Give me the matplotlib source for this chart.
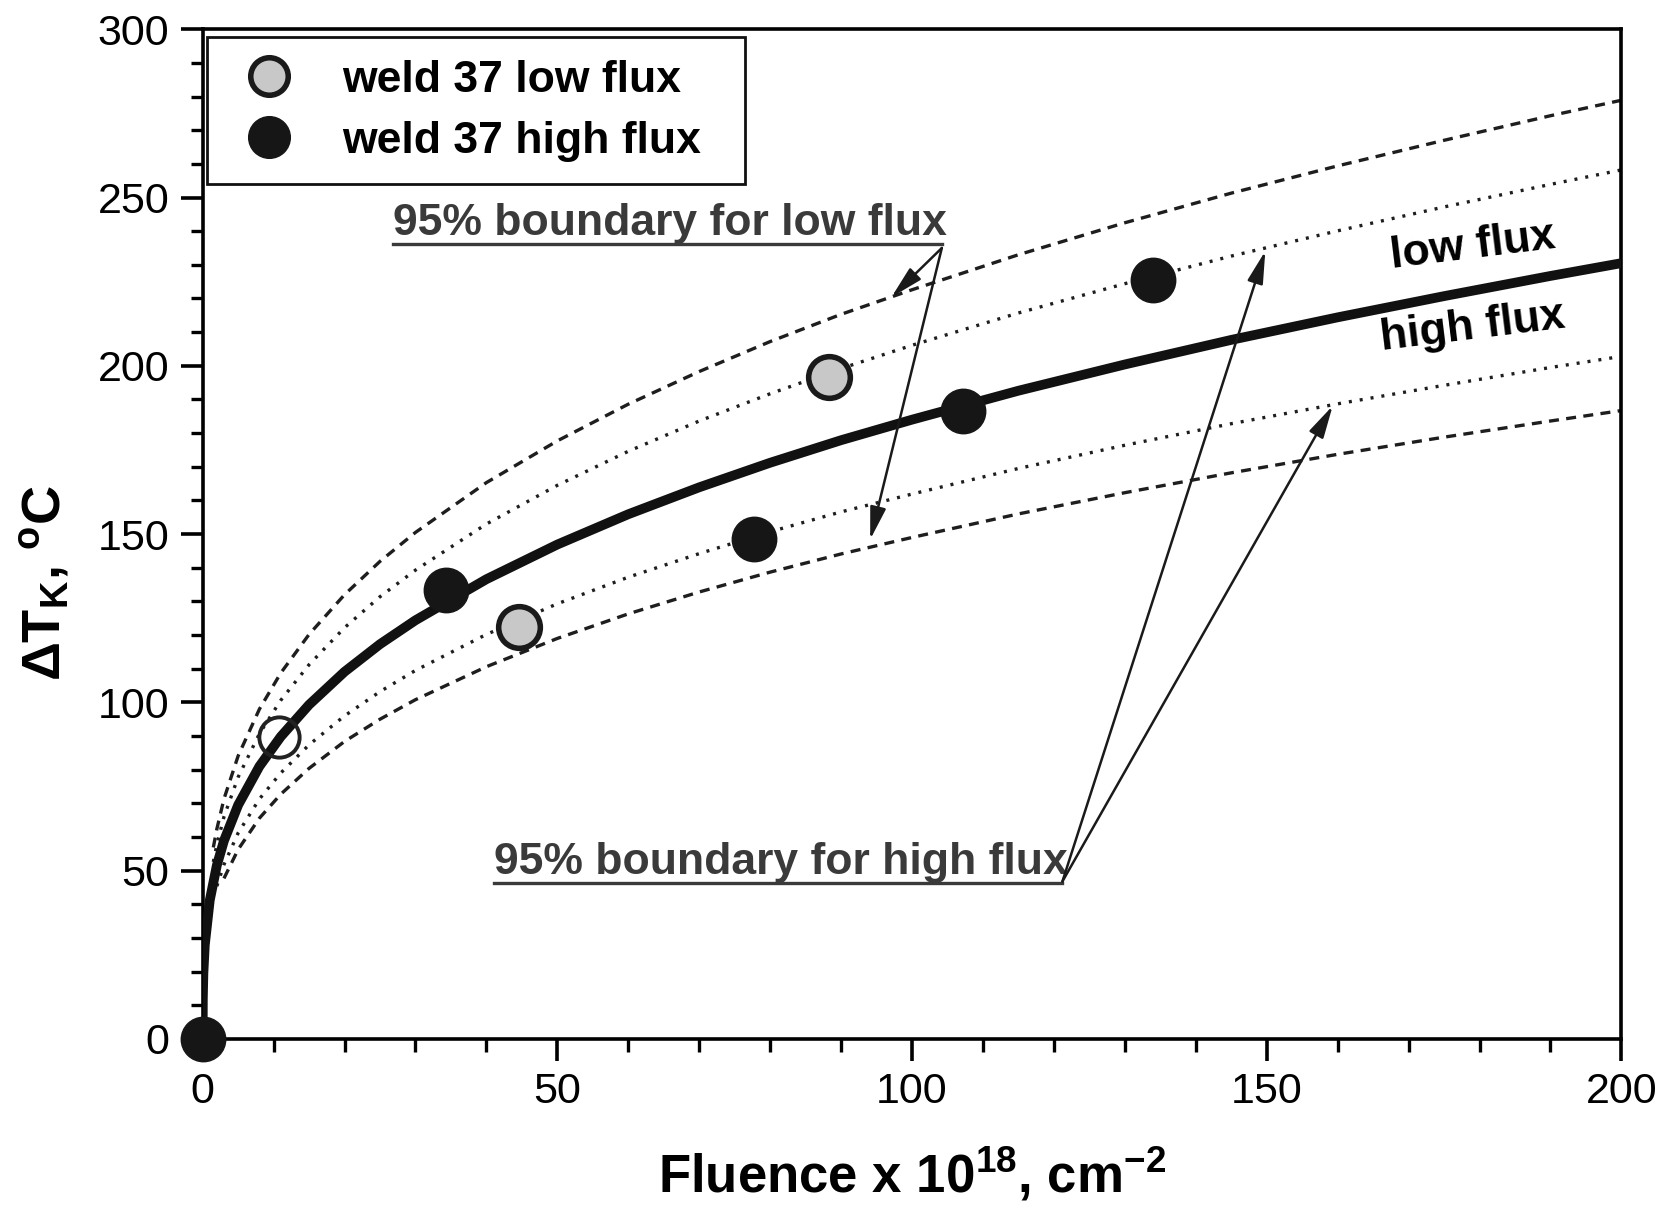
import matplotlib

matplotlib.use("Agg")
import matplotlib.pyplot as plt
from matplotlib.lines import Line2D

plt.rcParams["font.family"] = ["Liberation Sans", "DejaVu Sans"]
plt.rcParams["mathtext.fontset"] = "custom"
plt.rcParams["mathtext.rm"] = "Liberation Sans:bold"
plt.rcParams["mathtext.bf"] = "Liberation Sans:bold"
plt.rcParams["mathtext.default"] = "bf"

# measured points, weld 37
low_flux_F = [10.8, 44.6, 88.3]
low_flux_T = [89.8, 122.4, 196.6]
high_flux_F = [0.0, 34.3, 77.7, 107.2, 134.0]
high_flux_T = [0.0, 133.5, 148.4, 186.5, 225.5]

# trend curve (same for low and high flux)
trend_F = [0, 0.02, 0.1, 0.3, 1, 2, 3, 5, 8, 11, 15, 20, 25, 30, 40, 50, 60, 70,
           80, 90, 100, 115, 130, 145, 160, 175, 190, 200]
trend_T = [0, 11.6, 19.5, 27.9, 41.2, 51.6, 58.9, 69.5, 81.0, 89.8, 99.3, 109.1,
           117.3, 124.4, 136.6, 146.9, 155.9, 163.9, 171.2, 177.9, 184.0, 192.6,
           200.4, 207.7, 214.4, 220.7, 226.7, 230.5]

# 95% boundaries, low flux (dashed)
lo_upper_F = [1.5, 2, 3, 5, 8, 11, 15, 20, 25, 30, 40, 50, 60, 70, 80, 90, 100,
              115, 130, 145, 160, 175, 190, 200]
lo_upper_T = [56.9, 62.4, 71.3, 84.1, 98.0, 108.7, 120.2, 132.0, 141.9, 150.5,
              165.3, 177.7, 188.6, 198.3, 207.2, 215.3, 222.6, 233.0, 242.5,
              251.3, 259.4, 267.0, 274.3, 278.9]
lo_lower_F = [3, 5, 8, 11, 15, 20, 25, 30, 40, 50, 60, 70, 80, 90, 100, 115, 130,
              145, 160, 175, 190, 200]
lo_lower_T = [47.7, 56.3, 65.6, 72.7, 80.4, 88.4, 95.0, 100.8, 110.6, 119.0,
              126.3, 132.8, 138.7, 144.1, 149.0, 156.0, 162.3, 168.2, 173.7,
              178.8, 183.6, 186.7]

# 95% boundaries, high flux (dotted)
hi_upper_F = [1.5, 2, 3, 5, 8, 11, 15, 20, 25, 30, 40, 50, 60, 70, 80, 90, 100,
              115, 130, 145, 160, 175, 190, 200]
hi_upper_T = [52.6, 57.8, 66.0, 77.8, 90.7, 100.6, 111.2, 122.2, 131.4, 139.3,
              153.0, 164.5, 174.6, 183.6, 191.7, 199.2, 206.1, 215.7, 224.4,
              232.6, 240.1, 247.2, 253.9, 258.2]
hi_lower_F = [2, 3, 5, 8, 11, 15, 20, 25, 30, 40, 50, 60, 70, 80, 90, 100, 115,
              130, 145, 160, 175, 190, 200]
hi_lower_T = [45.4, 51.8, 61.2, 71.3, 79.0, 87.4, 96.0, 103.2, 109.5, 120.2,
              129.3, 137.2, 144.2, 150.7, 156.6, 161.9, 169.5, 176.4, 182.8,
              188.7, 194.2, 199.5, 202.8]

x_ticks = [0, 50, 100, 150, 200]
y_ticks = [0, 50, 100, 150, 200, 250, 300]

fig = plt.figure(figsize=(16.75, 12.18), dpi=100)
ax = fig.add_axes([0.121, 0.147, 0.847, 0.829])

dash = (0, (3.0, 2.2))
dot = (0, (0.9, 2.4))
for F, T in [(lo_upper_F, lo_upper_T), (lo_lower_F, lo_lower_T)]:
    ax.plot(F, T, color="#1e1e1e", lw=2.4, linestyle=dash, zorder=2)
for F, T in [(hi_upper_F, hi_upper_T), (hi_lower_F, hi_lower_T)]:
    ax.plot(F, T, color="#1e1e1e", lw=2.4, linestyle=dot, zorder=2)

ax.plot(trend_F, trend_T, color="#111111", lw=7.0, solid_capstyle="butt", zorder=3)

# data points (first low-flux point is drawn open in the original)
ax.plot(low_flux_F[:1], low_flux_T[:1], "o", ms=29, mfc="none", mec="#222222",
        mew=2.8, zorder=4)
ax.plot(low_flux_F[1:], low_flux_T[1:], "o", ms=30, mfc="#c8c8c8", mec="#1a1a1a",
        mew=4.0, zorder=4)
ax.plot(high_flux_F, high_flux_T, "o", ms=32, mfc="#161616", mec="#161616",
        zorder=5, clip_on=False)

# annotations
txt_gray = "#3a3a3a"
ax.text(26.8, 239.0, "95% boundary for low flux", fontsize=32, fontweight="bold",
        color=txt_gray, ha="left", va="baseline")
ax.plot([26.8, 104.2], [236.2, 236.2], color=txt_gray, lw=2.4)
ax.text(41.0, 49.0, "95% boundary for high flux", fontsize=32, fontweight="bold",
        color=txt_gray, ha="left", va="baseline")
ax.plot([41.0, 121.2], [46.4, 46.4], color=txt_gray, lw=2.4)

arrow = dict(arrowstyle="-|>,head_length=0.9,head_width=0.22", lw=1.8,
             color="#1a1a1a", shrinkA=0, shrinkB=0, mutation_scale=22)
for end in [(97.1, 220.4), (94.1, 148.4)]:
    ax.annotate("", xy=end, xytext=(104.2, 235.0), arrowprops=arrow)
for end in [(149.8, 234.1), (159.3, 188.1)]:
    ax.annotate("", xy=end, xytext=(121.2, 46.8), arrowprops=arrow)

ax.text(179.0, 235.5, "low flux", fontsize=32, fontweight="bold", rotation=7,
        ha="center", va="center")
ax.text(179.0, 211.5, "high flux", fontsize=32, fontweight="bold", rotation=7,
        ha="center", va="center")

ax.set_xlim(0, 200)
ax.set_ylim(0, 300)
ax.set_xticks(x_ticks)
ax.set_yticks(y_ticks)
ax.set_xticks(range(0, 201, 10), minor=True)
ax.set_yticks(range(0, 301, 10), minor=True)
ax.tick_params(which="major", length=16, width=2.6, labelsize=31, pad=8,
               direction="out")
ax.tick_params(which="minor", length=9, width=2.4, direction="out")
for s in ax.spines.values():
    s.set_linewidth(2.6)

ax.set_xlabel("Fluence x 10$^{18}$, cm$^{-2}$", fontsize=38, fontweight="bold")
ax.set_ylabel("ΔT$_{K}$, $^{o}$C", fontsize=39, fontweight="bold")
ax.xaxis.set_label_coords(0.5, -0.105)
ax.yaxis.set_label_coords(-0.092, 0.452)

handles = [
    Line2D([], [], ls="none", marker="o", ms=27, mfc="#c8c8c8", mec="#1a1a1a", mew=4.0),
    Line2D([], [], ls="none", marker="o", ms=30, mfc="#161616", mec="#161616"),
]
leg = ax.legend(handles, ["weld 37 low flux", "weld 37 high flux"],
                loc="upper left", bbox_to_anchor=(0.003, 0.0, 0.379, 0.992),
                mode="expand", borderaxespad=0, fancybox=False, framealpha=1,
                edgecolor="#111111", prop=dict(size=32, weight="bold"),
                handlelength=1.8, handletextpad=0.75, borderpad=0.5,
                labelspacing=0.45)
leg.get_frame().set_linewidth(2.0)

fig.savefig("out.png", dpi=100)
